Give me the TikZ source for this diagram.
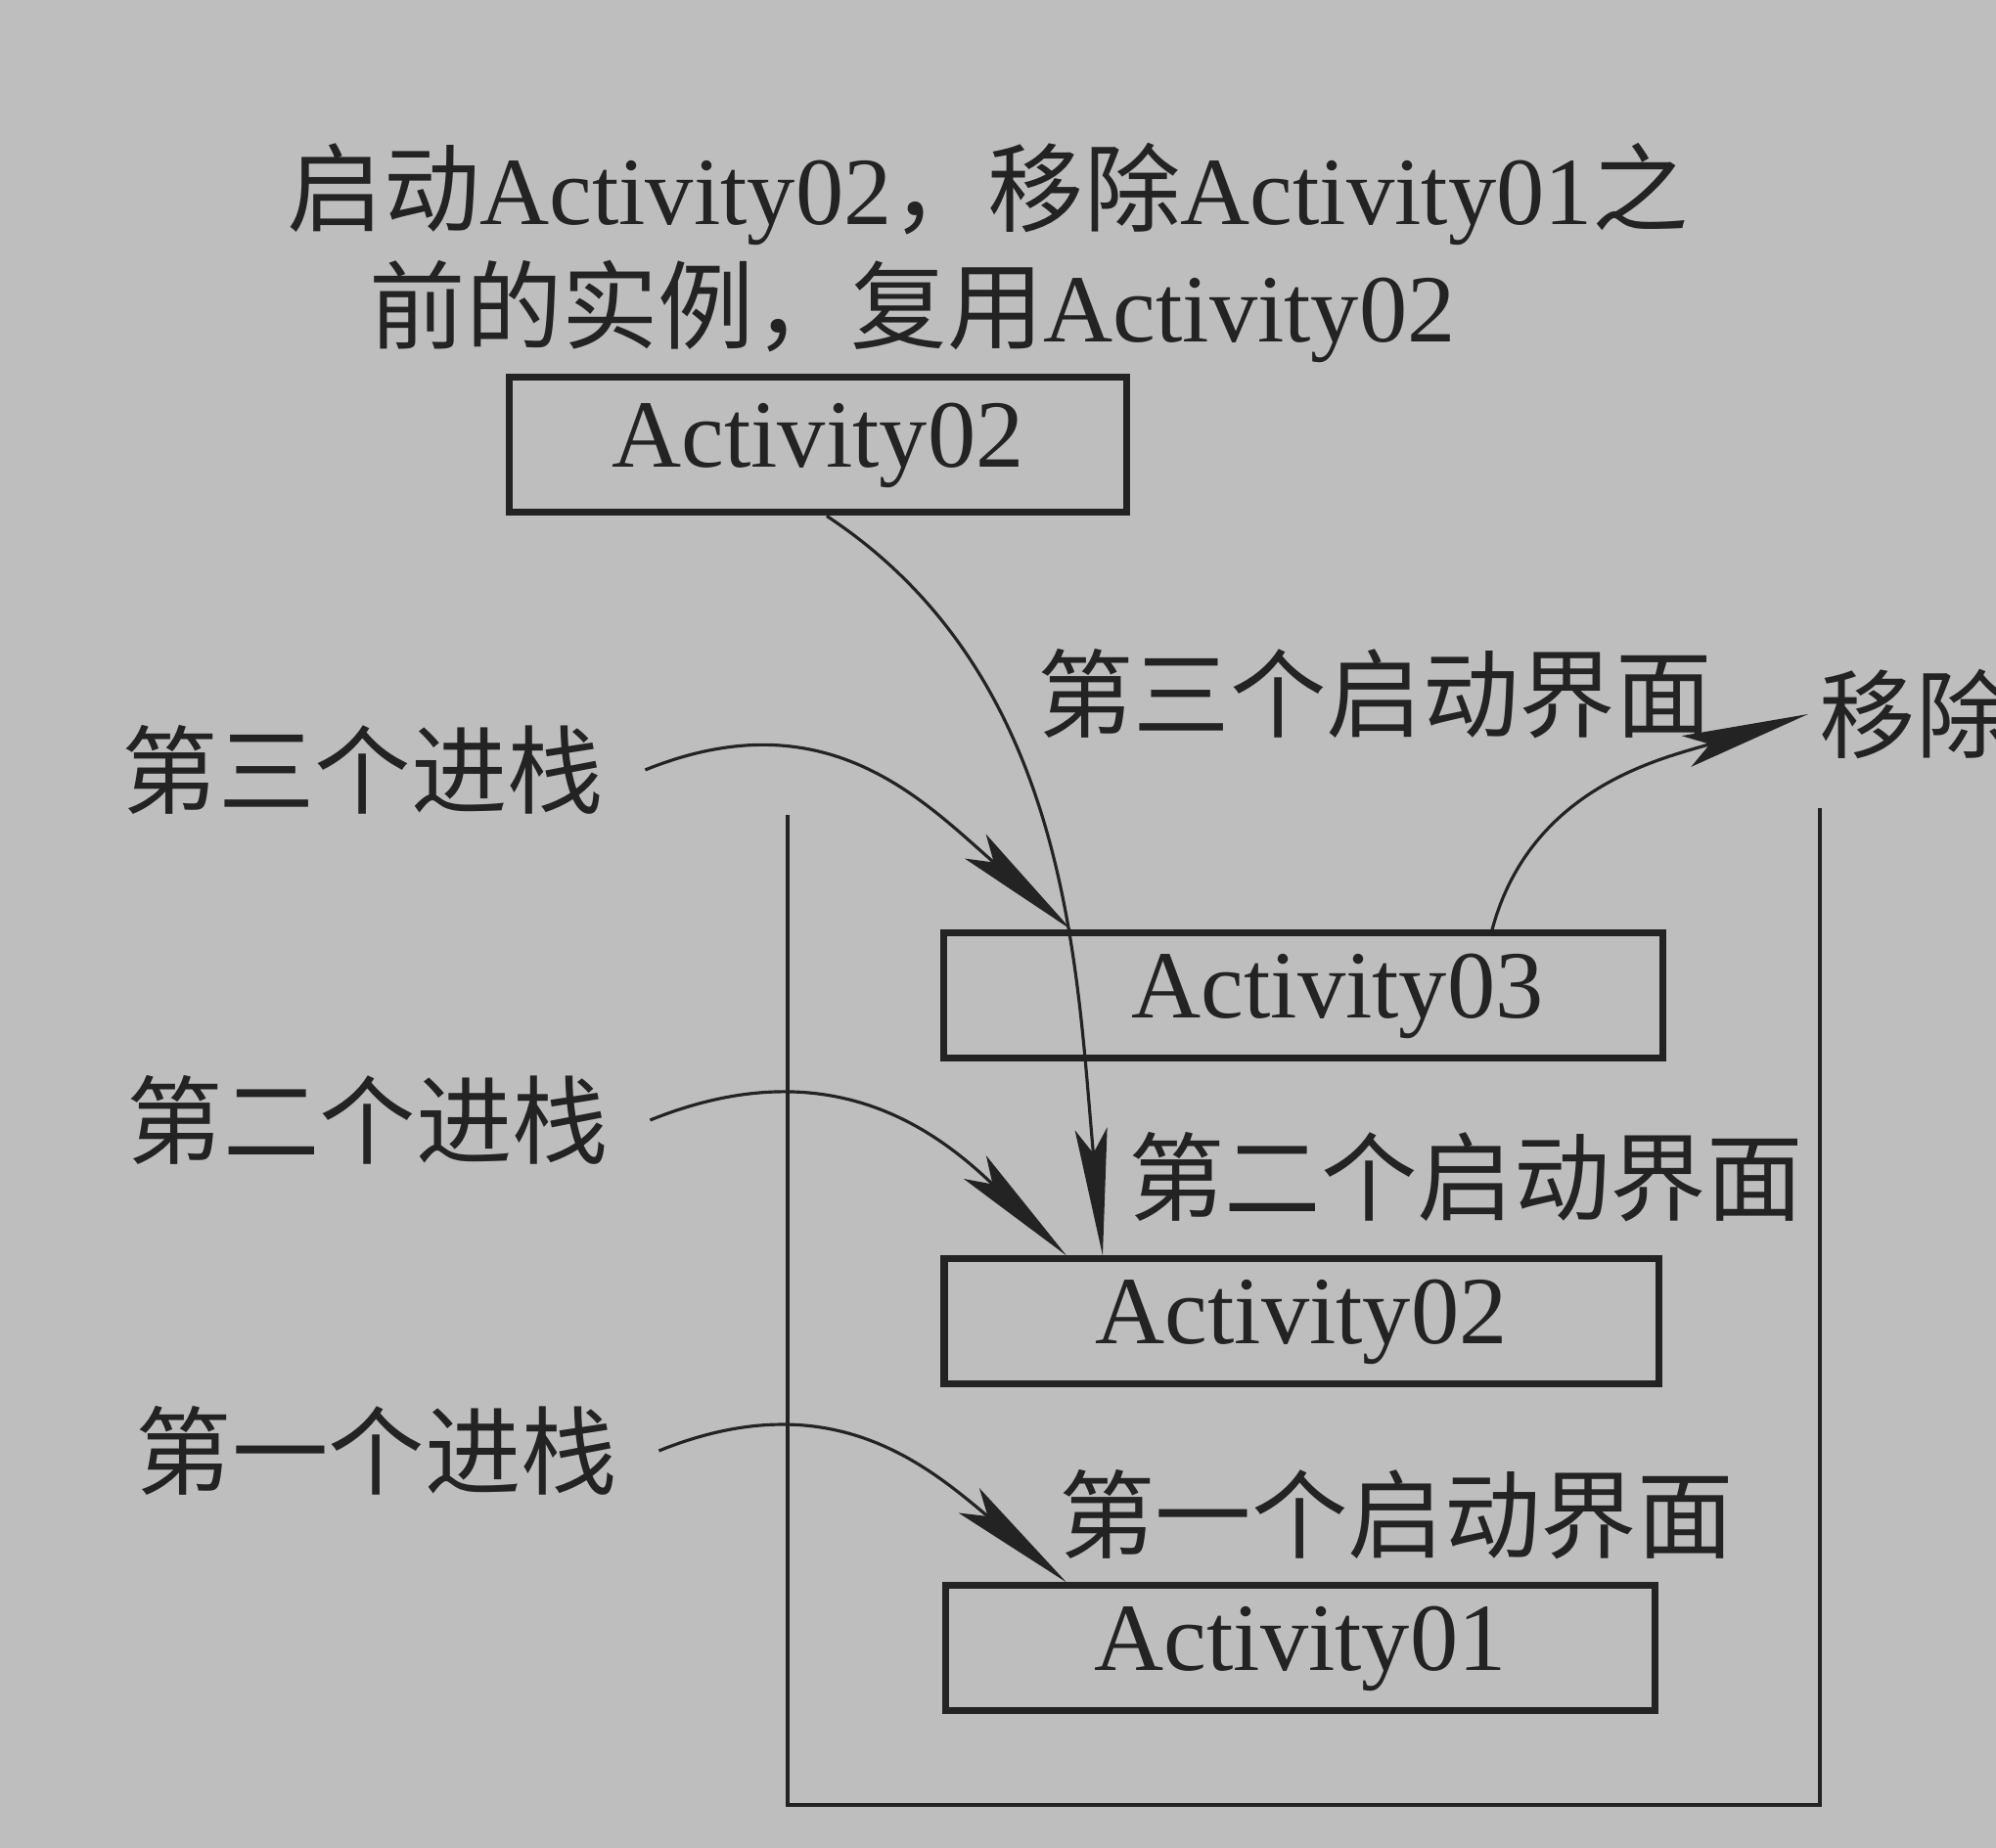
\documentclass[tikz,border=0pt]{standalone}
\usepackage{fontspec}
\setmainfont{Liberation Serif}
\newfontfamily\cjk{Noto Sans CJK SC}
\usetikzlibrary{arrows.meta}
\newcommand{\zh}[1]{{\cjk #1}}
\definecolor{paper}{RGB}{190,190,190}
\definecolor{ink}{RGB}{35,35,35}

\begin{document}
\begin{tikzpicture}[every node/.style={font=\fontsize{28}{34.4}\selectfont,text=ink},
    actbox/.style={draw=ink,line width=2pt,minimum height=1.28cm,inner sep=0pt},
    push/.style={draw=ink,line width=0.9pt,-{Stealth[length=13mm,width=3.3mm,inset=2.5mm]}}]
            \useasboundingbox (0,0) rectangle (20.4,18.89);
            \fill[paper] (0,0) rectangle (20.4,18.89);

            \node[anchor=north west,inner sep=0pt,align=left] (title) at (2.93,17.44)
                {\zh{启动}Activity02\zh{，移除}Activity01\zh{之}\\\hspace*{0.84cm}\zh{前的实例，复用}Activity02};

            \node[actbox,minimum width=6.31cm,minimum height=1.38cm] (new) at (8.36,14.34) {Activity02};
            \node[actbox,minimum width=7.35cm] (a3) at (13.32,8.71) {\hspace*{0.7cm}Activity03};
            \node[actbox,minimum width=7.3cm] (a2) at (13.30,5.38) {Activity02};
            \node[actbox,minimum width=7.25cm] (a1) at (13.29,2.04) {Activity01};

            \draw[ink,line width=1.3pt] (8.05,10.56) -- (8.05,0.44) -- (18.60,0.44) -- (18.60,10.63);

            \node (push3) at (3.71,11.02) {\zh{第三个进栈}};
            \node (push2) at (3.76,7.44) {\zh{第二个进栈}};
            \node (push1) at (3.85,4.06) {\zh{第一个进栈}};
            \node (start3) at (14.05,11.80) {\zh{第三个启动界面}};
            \node (start2) at (14.98,6.86) {\zh{第二个启动界面}};
            \node (start1) at (14.27,3.41) {\zh{第一个启动界面}};
            \node[anchor=west,inner sep=1.1mm] (rm) at (18.48,11.59) {\zh{移除}};

            \draw[push] ([xshift=0.9mm]new.south) .. controls (10.94,11.97) and (11.0,9.0) .. ([xshift=-2.03cm]a2.north);
            \draw[push] ([xshift=3mm]push3.east) to[out=22,in=139,looseness=1.1] ([xshift=-2.37cm]a3.north);
            \draw[push] ([xshift=3mm]push2.east) to[out=22,in=136,looseness=1.1] ([xshift=-2.40cm]a2.north);
            \draw[push] ([xshift=3mm]push1.east) to[out=22,in=140,looseness=1.1] ([xshift=-2.39cm]a1.north);
            \draw[push] ([xshift=1.93cm]a3.north) to[out=75,in=197] (rm.west);
        \end{tikzpicture}
\end{document}
